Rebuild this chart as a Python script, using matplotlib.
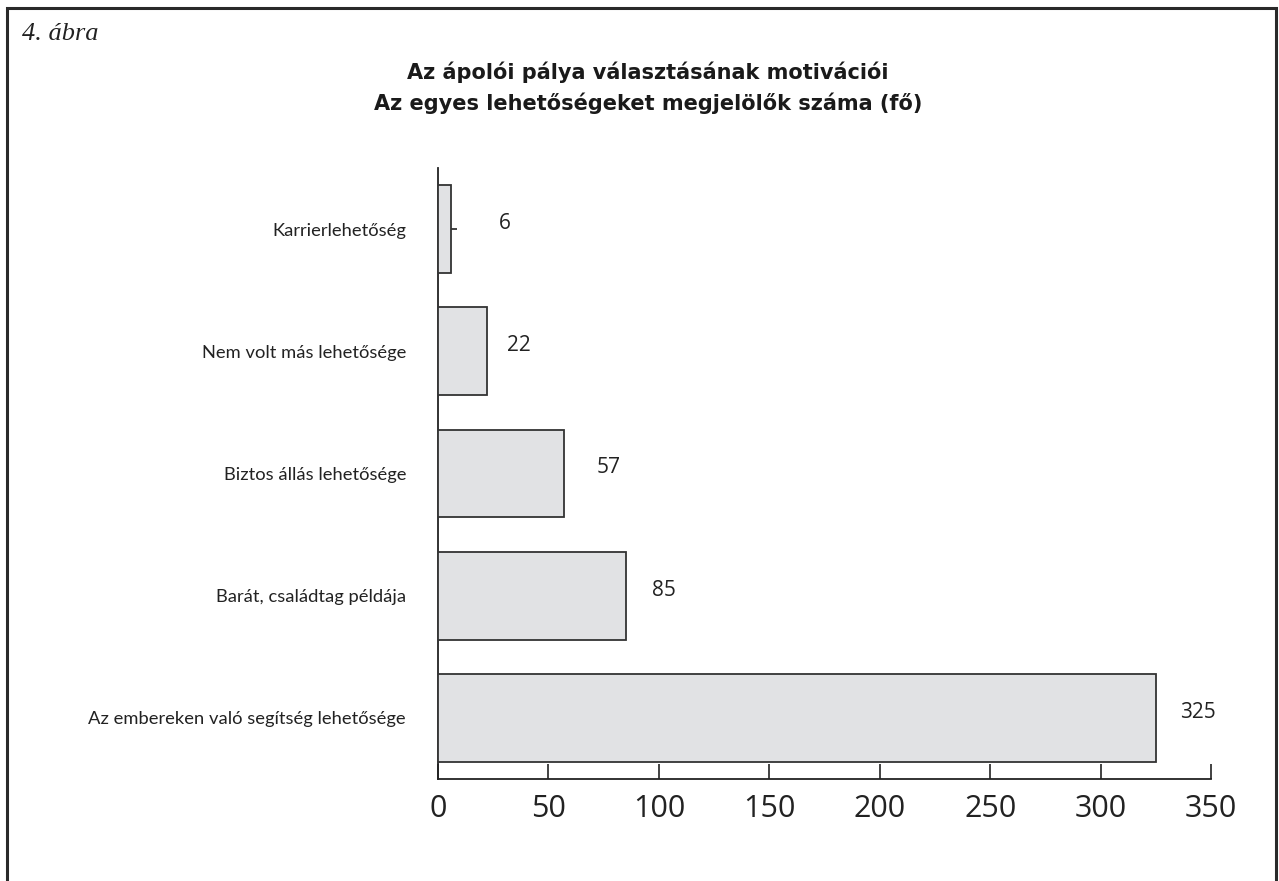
import matplotlib.pyplot as plt
from matplotlib.patches import Rectangle

# motivációk, alulról felfelé
categories = ['Az embereken való segítség lehetősége',
              'Barát, családtag példája',
              'Biztos állás lehetősége',
              'Nem volt más lehetősége',
              'Karrierlehetőség']
counts = [325, 85, 57, 22, 6]
x_ticks = [0, 50, 100, 150, 200, 250, 300, 350]

label_pad = [24, 26, 33, 20, 48]  # px from bar end to value label

fig = plt.figure(figsize=(12.79, 8.81), dpi=100)

# frame around the figure (bottom edge runs off the page)
fig.patches.append(Rectangle((7 / 1279, -0.05), 1269 / 1279, 1.05 - 8 / 881,
                             transform=fig.transFigure, fill=False,
                             edgecolor='#2a2a2a', linewidth=2.2))

fig.text(22 / 1279, 1 - 40 / 881, '4. ábra', fontsize=19, style='italic',
         family='Liberation Serif', color='#222222', va='baseline', ha='left')
fig.text(648 / 1279, 1 - 72 / 881, 'Az ápolói pálya választásának motivációi',
         fontsize=15, fontweight='bold', family='DejaVu Sans', ha='center', va='center',
         color='#1a1a1a')
fig.text(648 / 1279, 1 - 103 / 881, 'Az egyes lehetőségeket megjelölők száma (fő)',
         fontsize=15, fontweight='bold', family='DejaVu Sans', ha='center', va='center',
         color='#1a1a1a')

ax = fig.add_axes([438 / 1279, 1 - 779 / 881, (1211 - 438) / 1279, (779 - 168) / 881])
ypos = list(range(len(categories)))
bars = ax.barh(ypos, counts, height=0.72, color='#e1e2e4', edgecolor='#333333',
               linewidth=1.3, zorder=3)
ax.set_axisbelow(True)

ax.set_xlim(0, 350)
ax.set_ylim(-0.5, 4.5)
ax.set_xticks(x_ticks)
ax.set_xticklabels([str(t) for t in x_ticks], fontsize=22, family='Open Sans',
                   color='#222222')
ax.set_yticks(ypos)
ax.set_yticklabels(categories, fontsize=13.2, family='Lato', color='#222222')
ax.tick_params(axis='x', direction='in', length=10.5, width=1.2, color='#222222', pad=11)
ax.tick_params(axis='y', direction='in', length=14, width=1.2, color='#222222', pad=23)

for s in ['top', 'right']:
    ax.spines[s].set_visible(False)
for s in ['left', 'bottom']:
    ax.spines[s].set_linewidth(1.3)
    ax.spines[s].set_color('#222222')

for y, v, p in zip(ypos, counts, label_pad):
    ax.annotate(str(v), (v, y), xytext=(p * 0.72, 4), textcoords='offset points',
                ha='left', va='center', fontsize=15, family='Open Sans', color='#222222')

fig.savefig('out.png', dpi=100)
